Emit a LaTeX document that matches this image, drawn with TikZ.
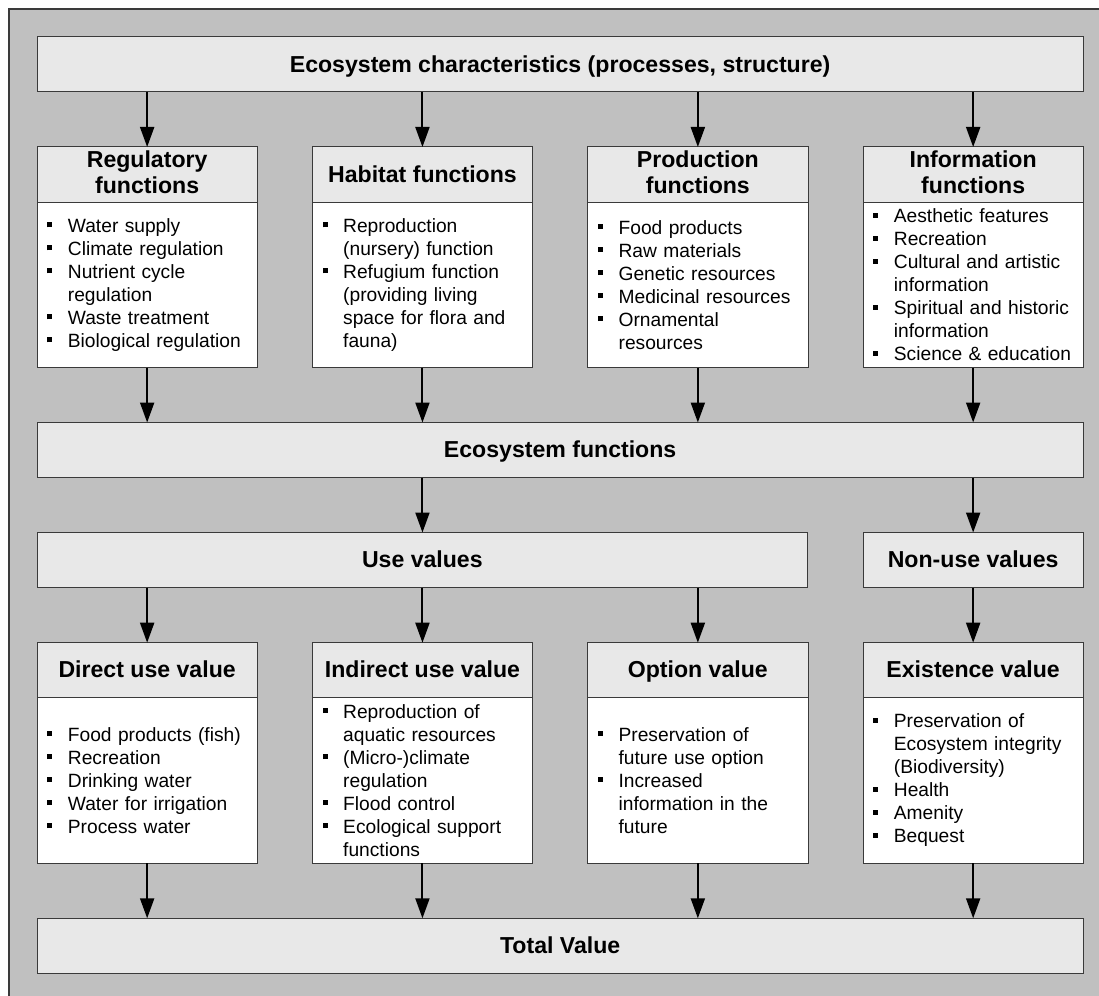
\documentclass[tikz,border=0pt]{standalone}
\usepackage{fontspec}
\setmainfont{Liberation Sans}
\usetikzlibrary{arrows.meta}
\definecolor{framebg}{HTML}{C0C0C0}
\definecolor{headfill}{HTML}{E8E8E8}
\definecolor{edgegray}{HTML}{3A3A3A}
% square bullet hanging in the left margin of a list line
\newcommand{\bul}{\leavevmode\llap{\rule[5pt]{5pt}{5pt}\hspace{15.7pt}}}
\begin{document}
\begin{tikzpicture}[x=1pt,y=-1pt,
  headbox/.style={draw=edgegray, line width=1pt, fill=headfill, minimum height=55pt,
    inner sep=0pt, outer sep=0pt, align=center, anchor=north west, text depth=1.5pt,
    font=\bfseries\fontsize{23.1}{26.7}\selectfont},
  twoline/.style={headbox, text depth=5pt},
  bodybox/.style={draw=edgegray, line width=1pt, fill=white, inner sep=0pt, outer sep=0pt,
    anchor=north west, minimum width=220.3pt},
  itemtext/.style={anchor=west, inner sep=0pt, text width=186pt, align=left,
    font=\fontsize{19.2}{23}\selectfont},
  flow/.style={line width=2pt, -{Triangle[length=20pt,width=14pt]}}
]
\useasboundingbox (0,0) rectangle (1099,995);
\clip (0,0) rectangle (1099,995);
\fill[white] (0,0) rectangle (1099,995);
% grey panel behind everything
\draw[draw=edgegray, line width=1.5pt, fill=framebg] (9,9) rectangle (1120,1020);

% top row
\node[headbox, minimum width=1046.3pt] (top) at (37,37) {Ecosystem characteristics (processes, structure)};

% function columns
\node[twoline, minimum width=220.3pt] (reghd) at (37,147) {Regulatory\\functions};
\node[headbox, minimum width=220.3pt] (habhd) at (312.3,147) {Habitat functions};
\node[twoline, minimum width=220.3pt] (prohd) at (587.7,147) {Production\\functions};
\node[twoline, minimum width=220.3pt] (infhd) at (863,147) {Information\\functions};

\node[bodybox, minimum height=165.7pt] (regbd) at (37,202) {};
\node[bodybox, minimum height=165.7pt] (habbd) at (312.3,202) {};
\node[bodybox, minimum height=165.7pt] (probd) at (587.7,202) {};
\node[bodybox, minimum height=165.7pt] (infbd) at (863,202) {};

\node[itemtext] (regtx) at ([xshift=30.7pt]regbd.west)
  {\bul Water supply\\ \bul Climate regulation\\ \bul Nutrient cycle\\ regulation\\
   \bul Waste treatment\\ \bul Biological regulation};
\node[itemtext] (habtx) at ([xshift=30.7pt]habbd.west)
  {\bul Reproduction\\ (nursery) function\\ \bul Refugium function\\ (providing living\\
   space for flora and\\ fauna)};
\node[itemtext] (protx) at ([xshift=30.7pt]probd.west)
  {\bul Food products\\ \bul Raw materials\\ \bul Genetic resources\\
   \bul Medicinal resources\\ \bul Ornamental\\ resources};
\node[itemtext] (inftx) at ([xshift=30.7pt]infbd.west)
  {\bul Aesthetic features\\ \bul Recreation\\ \bul Cultural and artistic\\ information\\
   \bul Spiritual and historic\\ information\\ \bul Science \& education};

% middle bands
\node[headbox, minimum width=1046.3pt] (eco) at (37,422.5) {Ecosystem functions};
\node[headbox, minimum width=770.7pt] (use) at (37,532.5) {Use values};
\node[headbox, minimum width=220.3pt] (nonuse) at (863,532.5) {Non-use values};

% value columns
\node[headbox, minimum width=220.3pt] (dirhd) at (37,642.7) {Direct use value};
\node[headbox, minimum width=220.3pt] (indhd) at (312.3,642.7) {Indirect use value};
\node[headbox, minimum width=220.3pt] (opthd) at (587.7,642.7) {Option value};
\node[headbox, minimum width=220.3pt] (exhd) at (863,642.7) {Existence value};

\node[bodybox, minimum height=165.3pt] (dirbd) at (37,697.7) {};
\node[bodybox, minimum height=165.3pt] (indbd) at (312.3,697.7) {};
\node[bodybox, minimum height=165.3pt] (optbd) at (587.7,697.7) {};
\node[bodybox, minimum height=165.3pt] (exbd) at (863,697.7) {};

\node[itemtext] (dirtx) at ([xshift=30.7pt]dirbd.west)
  {\bul Food products (fish)\\ \bul Recreation\\ \bul Drinking water\\
   \bul Water for irrigation\\ \bul Process water};
\node[itemtext] (indtx) at ([xshift=30.7pt]indbd.west)
  {\bul Reproduction of\\ aquatic resources\\ \bul (Micro-)climate\\ regulation\\
   \bul Flood control\\ \bul Ecological support\\ functions};
\node[itemtext] (opttx) at ([xshift=30.7pt]optbd.west)
  {\bul Preservation of\\ future use option\\ \bul Increased\\ information in the\\ future};
\node[itemtext] (extx) at ([xshift=30.7pt]exbd.west)
  {\bul Preservation of\\ Ecosystem integrity\\ (Biodiversity)\\ \bul Health\\
   \bul Amenity\\ \bul Bequest};

% bottom row
\node[headbox, minimum width=1046.3pt] (total) at (37,918.3) {Total Value};

% connectors
\foreach \c in {reghd,habhd,prohd,infhd}
  \draw[flow] (top.south -| \c.north) -- (\c.north);
\foreach \c in {regbd,habbd,probd,infbd}
  \draw[flow] (\c.south) -- (eco.north -| \c.south);
\draw[flow] (eco.south -| indhd.north) -- (use.north -| indhd.north);
\draw[flow] (eco.south -| nonuse.north) -- (nonuse.north);
\foreach \c in {dirhd,indhd,opthd}
  \draw[flow] (use.south -| \c.north) -- (\c.north);
\draw[flow] (nonuse.south) -- (exhd.north);
\foreach \c in {dirbd,indbd,optbd,exbd}
  \draw[flow] (\c.south) -- (total.north -| \c.south);
\end{tikzpicture}
\end{document}
